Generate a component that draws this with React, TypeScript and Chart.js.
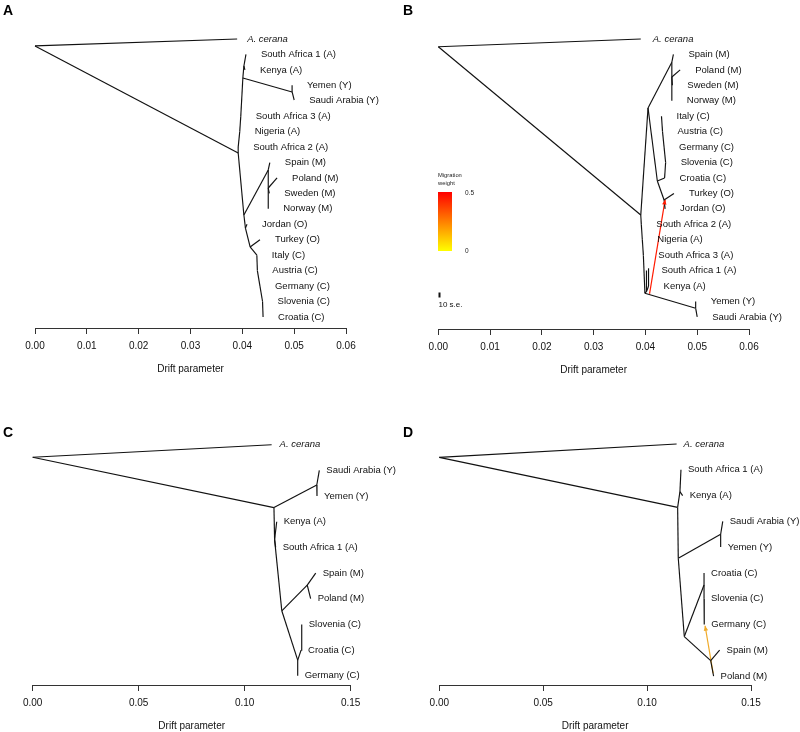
import React, { useEffect, useRef } from 'react';
import { Chart, registerables } from 'chart.js';

Chart.register(...registerables);

const FONT = "'Liberation Sans', Arial, Helvetica, sans-serif";

// ---------- Panel A: tree without migration (drift, row) ----------
const aX = [0, 0.0390, 0.0392, 0.0392, 0.0395, 0.0397, 0.0401, 0.0496, 0.0496, 0.0500, 0.0403, 0.0405, 0.0407, 0.0403, 0.0450, 0.0453, 0.0450, 0.0467, 0.0452, 0.0450, 0.0406, 0.0409, 0.0415, 0.0434, 0.0428, 0.0429, 0.0434, 0.0439, 0.0440];
const aY = [0.45, 0, 7.38, 7.0, 6.0, 5.0, 2.53, 3.43, 3.0, 3.95, 1.75, 2.0, 1.0, 11.4, 8.48, 8.0, 9.65, 9.0, 10.0, 11.0, 12.25, 12.0, 13.47, 13.0, 14.0, 15.0, 16.0, 17.0, 18.0];
const aParent = [-1, 0, 0, 2, 3, 4, 5, 6, 7, 7, 6, 10, 10, 2, 13, 14, 14, 16, 16, 16, 13, 20, 20, 22, 22, 24, 25, 26, 27];
const aLabel = ['', 'A. cerana', '', 'South Africa 2 (A)', 'Nigeria (A)', 'South Africa 3 (A)', '', '', 'Yemen (Y)', 'Saudi Arabia (Y)', '', 'Kenya (A)', 'South Africa 1 (A)', '', '', 'Spain (M)', '', 'Poland (M)', 'Sweden (M)', 'Norway (M)', '', 'Jordan (O)', '', 'Turkey (O)', 'Italy (C)', 'Austria (C)', 'Germany (C)', 'Slovenia (C)', 'Croatia (C)'];

// ---------- Panel B: tree with one migration edge ----------
const bX = [0, 0.0391, 0.0391, 0.0405, 0.0451, 0.0454, 0.0451, 0.0467, 0.0452, 0.0451, 0.0423, 0.0436, 0.0455, 0.0438, 0.0437, 0.0439, 0.0436, 0.0433, 0.0431, 0.0392, 0.0394, 0.0396, 0.0399, 0.0403, 0.0402, 0.0406, 0.0406, 0.0497, 0.0497, 0.0500];
const bY = [0.5, 0, 11.4, 4.47, 1.5, 1.0, 2.46, 2.0, 3.0, 4.0, 9.2, 10.43, 10.0, 11.0, 9.0, 8.0, 7.0, 6.0, 5.0, 12.0, 13.0, 14.0, 16.47, 16.3, 15.0, 16.0, 14.85, 17.44, 17.0, 18.0];
const bParent = [-1, 0, 0, 2, 3, 4, 4, 6, 6, 6, 3, 10, 11, 11, 10, 14, 15, 16, 17, 2, 19, 20, 21, 22, 23, 23, 25, 22, 27, 27];
const bLabel = ['', 'A. cerana', '', '', '', 'Spain (M)', '', 'Poland (M)', 'Sweden (M)', 'Norway (M)', '', '', 'Turkey (O)', 'Jordan (O)', 'Croatia (C)', 'Slovenia (C)', 'Germany (C)', 'Austria (C)', 'Italy (C)', 'South Africa 2 (A)', 'Nigeria (A)', 'South Africa 3 (A)', '', '', 'South Africa 1 (A)', 'Kenya (A)', '', '', 'Yemen (Y)', 'Saudi Arabia (Y)'];
const bMigFrom = [0.0408, 16.5];
const bMigTo = [0.0438, 10.4];

// ---------- Panel C ----------
const cX = [0, 0.1127, 0.1138, 0.1340, 0.1352, 0.1341, 0.1141, 0.1151, 0.1146, 0.1175, 0.1295, 0.1335, 0.1311, 0.1250, 0.1250, 0.1266, 0.1269];
const cY = [0.49, 0, 2.45, 1.57, 1.0, 2.0, 3.7, 3.0, 4.0, 6.47, 5.47, 5.0, 6.0, 8.39, 9.0, 8.0, 7.0];
const cParent = [-1, 0, 0, 2, 3, 3, 2, 6, 6, 6, 9, 10, 10, 9, 13, 13, 15];
const cLabel = ['', 'A. cerana', '', '', 'Saudi Arabia (Y)', 'Yemen (Y)', '', 'Kenya (A)', 'South Africa 1 (A)', '', '', 'Spain (M)', 'Poland (M)', '', 'Germany (C)', 'Croatia (C)', 'Slovenia (C)'];

// ---------- Panel D ----------
const dX = [0, 0.1142, 0.1147, 0.1158, 0.1163, 0.1171, 0.1150, 0.1354, 0.1364, 0.1354, 0.1179, 0.1274, 0.1274, 0.1274, 0.1275, 0.1306, 0.1349, 0.1320];
const dY = [0.52, 0, 2.46, 1.85, 1.0, 2.0, 4.43, 3.5, 3.0, 4.0, 7.47, 5.47, 5.0, 6.0, 7.0, 8.4, 8.0, 9.0];
const dParent = [-1, 0, 0, 2, 3, 3, 2, 6, 7, 7, 6, 10, 11, 11, 13, 10, 15, 15];
const dLabel = ['', 'A. cerana', '', '', 'South Africa 1 (A)', 'Kenya (A)', '', '', 'Saudi Arabia (Y)', 'Yemen (Y)', '', '', 'Croatia (C)', 'Slovenia (C)', 'Germany (C)', '', 'Spain (M)', 'Poland (M)'];
const dMigFrom = [0.1318, 8.9];
const dMigTo = [0.1279, 7.05];

const tickValuesAB = [0, 0.01, 0.02, 0.03, 0.04, 0.05, 0.06];
const tickValuesCD = [0, 0.05, 0.1, 0.15];

type PanelProps = {
  xs: number[];
  ys: number[];
  parent: number[];
  labels: string[];
  ticks: number[];
  migFrom?: number[];
  migTo?: number[];
  migColor?: string;
  legend?: boolean;
  left: number;
  top: number;
  height: number;
  padLeft: number;
  padRight: number;
  row0: number;
  rowStep: number;
  areaTop: number;
  axisY: number;
  labelOffset: number;
  outgroupOffset: number;
  letter: string;
};

function Panel(p: PanelProps) {
  const ref = useRef<HTMLCanvasElement>(null);
  useEffect(() => {
    if (!ref.current) return;
    const datasets: any[] = [];
    p.xs.forEach((x, i) => {
      const par = p.parent[i];
      if (par < 0) return;
      datasets.push({
        data: [{ x: p.xs[par], y: p.ys[par] }, { x, y: p.ys[i] }],
        showLine: true,
        borderColor: '#111',
        borderWidth: 1.15,
        pointRadius: 0,
        pointHoverRadius: 0,
        clip: false,
      });
    });
    if (p.migFrom && p.migTo) {
      datasets.push({
        data: [{ x: p.migFrom[0], y: p.migFrom[1] }, { x: p.migTo[0], y: p.migTo[1] }],
        showLine: true,
        borderColor: p.migColor,
        borderWidth: 1.2,
        pointRadius: 0,
        pointHoverRadius: 0,
        clip: false,
      });
    }
    const yMin = (p.areaTop - p.row0) / p.rowStep;
    const yMax = (p.axisY - p.row0) / p.rowStep;
    const xMax = p.ticks[p.ticks.length - 1];

    const treePlugin = {
      id: 'treeLabels',
      afterDatasetsDraw(chart: any) {
        const ctx = chart.ctx;
        const sx = chart.scales.x;
        const sy = chart.scales.y;
        ctx.save();
        ctx.fillStyle = '#111';
        ctx.textBaseline = 'middle';
        ctx.textAlign = 'left';
        p.labels.forEach((lab, i) => {
          if (!lab) return;
          const isOut = lab === 'A. cerana';
          const px = sx.getPixelForValue(p.xs[i]) + (isOut ? p.outgroupOffset : p.labelOffset);
          const py = sy.getPixelForValue(p.ys[i]);
          ctx.font = (isOut ? 'italic ' : '') + '9.5px ' + FONT;
          ctx.fillText(lab, px, py);
        });
        if (p.migFrom && p.migTo) {
          const x1 = sx.getPixelForValue(p.migFrom[0]);
          const y1 = sy.getPixelForValue(p.migFrom[1]);
          const x2 = sx.getPixelForValue(p.migTo[0]);
          const y2 = sy.getPixelForValue(p.migTo[1]);
          const ang = Math.atan2(y2 - y1, x2 - x1);
          const L = 5, W = 2.2;
          ctx.fillStyle = p.migColor;
          ctx.beginPath();
          ctx.moveTo(x2, y2);
          ctx.lineTo(x2 - L * Math.cos(ang) + W * Math.sin(ang), y2 - L * Math.sin(ang) - W * Math.cos(ang));
          ctx.lineTo(x2 - L * Math.cos(ang) - W * Math.sin(ang), y2 - L * Math.sin(ang) + W * Math.cos(ang));
          ctx.closePath();
          ctx.fill();
        }
        if (p.legend) {
          ctx.fillStyle = '#222';
          ctx.textBaseline = 'middle';
          ctx.font = '5.8px ' + FONT;
          ctx.fillText('Migration', 38, 175);
          ctx.fillText('weight', 38, 183);
          const g = ctx.createLinearGradient(0, 192, 0, 251);
          g.addColorStop(0, '#ff0000');
          g.addColorStop(1, '#ffff00');
          ctx.fillStyle = g;
          ctx.fillRect(38, 192, 14, 59);
          ctx.fillStyle = '#222';
          ctx.font = '6.5px ' + FONT;
          ctx.fillText('0.5', 65, 193);
          ctx.fillText('0', 65, 251);
          ctx.fillStyle = '#111';
          ctx.fillRect(38.5, 292.5, 2, 5);
          ctx.font = '8px ' + FONT;
          ctx.fillText('10 s.e.', 38.5, 305);
        }
        ctx.restore();
      },
    };

    const chart = new Chart(ref.current, {
      type: 'scatter',
      data: { datasets },
      options: {
        animation: false,
        responsive: false,
        devicePixelRatio: 1,
        events: [],
        layout: {
          padding: {
            left: p.padLeft,
            right: p.padRight,
            top: p.areaTop,
            bottom: p.height - p.axisY - 47,
          },
        },
        plugins: { legend: { display: false }, tooltip: { enabled: false } },
        scales: {
          x: {
            type: 'linear',
            min: 0,
            max: xMax,
            afterBuildTicks: (axis: any) => {
              axis.ticks = p.ticks.map((v) => ({ value: v }));
            },
            ticks: {
              autoSkip: false,
              maxRotation: 0,
              padding: 6,
              color: '#111',
              font: { family: FONT, size: 10 },
              callback: (v: any) => Number(v).toFixed(2),
            },
            grid: {
              display: true,
              drawOnChartArea: false,
              drawTicks: true,
              tickLength: 6,
              color: '#333',
            },
            border: { display: true, color: '#333', width: 1 },
            title: {
              display: true,
              text: 'Drift parameter',
              color: '#111',
              font: { family: FONT, size: 10 },
              padding: { top: 5, bottom: 0 },
            },
          },
          y: { type: 'linear', display: false, reverse: true, min: yMin, max: yMax },
        },
      },
      plugins: [treePlugin],
    } as any);
    return () => chart.destroy();
  }, []);

  return (
    <>
      <canvas
        ref={ref}
        width={400}
        height={p.height}
        style={{ position: 'absolute', left: p.left, top: p.top, width: 400, height: p.height }}
      />
      <div
        style={{
          position: 'absolute',
          left: p.left + 3,
          top: p.top + (p.top === 0 ? 3 : 45),
          font: 'bold 14px ' + FONT,
          lineHeight: '14px',
          color: '#000',
        }}
      >
        {p.letter}
      </div>
    </>
  );
}

export default function App() {
  return (
    <div style={{ position: 'absolute', left: 0, top: 0, width: 800, height: 732, background: '#fff', overflow: 'hidden' }}>
      <Panel
        xs={aX} ys={aY} parent={aParent} labels={aLabel} ticks={tickValuesAB}
        left={0} top={0} height={380} padLeft={35} padRight={54}
        row0={39} rowStep={15.44} areaTop={30} axisY={328} labelOffset={15} outgroupOffset={10} letter="A"
      />
      <Panel
        xs={bX} ys={bY} parent={bParent} labels={bLabel} ticks={tickValuesAB}
        migFrom={bMigFrom} migTo={bMigTo} migColor="#ff1a00" legend
        left={400} top={0} height={380} padLeft={38.3} padRight={51}
        row0={39} rowStep={15.44} areaTop={30} axisY={329} labelOffset={15} outgroupOffset={12} letter="B"
      />
      <Panel
        xs={cX} ys={cY} parent={cParent} labels={cLabel} ticks={tickValuesCD}
        left={0} top={380} height={352} padLeft={32.7} padRight={49.3}
        row0={64.7} rowStep={25.67} areaTop={55} axisY={305} labelOffset={7} outgroupOffset={8} letter="C"
      />
      <Panel
        xs={dX} ys={dY} parent={dParent} labels={dLabel} ticks={tickValuesCD}
        migFrom={dMigFrom} migTo={dMigTo} migColor="#f0aa28"
        left={400} top={380} height={352} padLeft={39.3} padRight={49}
        row0={64} rowStep={25.78} areaTop={55} axisY={305} labelOffset={7} outgroupOffset={7} letter="D"
      />
    </div>
  );
}
